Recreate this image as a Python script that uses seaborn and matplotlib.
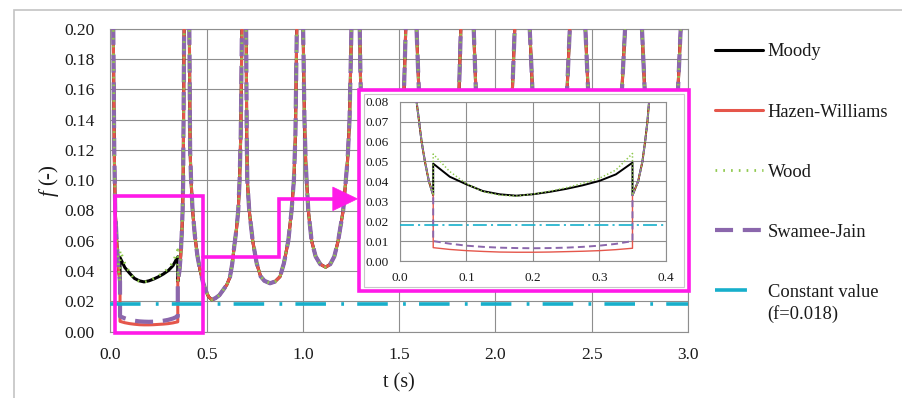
import matplotlib
matplotlib.use("Agg")
import matplotlib.pyplot as plt
import seaborn as sns
from matplotlib.patches import Rectangle, Polygon
from matplotlib.lines import Line2D

# ---------------- data ----------------
# shared descending branch at start (all four correlations coincide)
T_PRE = [0.0, 0.010, 0.015, 0.020, 0.025, 0.0325, 0.0375, 0.0435, 0.050]
F_PRE = [0.45, 0.26, 0.20, 0.12, 0.080, 0.060, 0.050, 0.040, 0.033]

# valve-closure interval where the correlations differ
T_MID = [0.05, 0.075, 0.10, 0.125, 0.15, 0.175, 0.20, 0.225, 0.25, 0.275, 0.30, 0.325, 0.35]
F_MOODY = [0.0489, 0.0423, 0.0385, 0.0351, 0.0335, 0.0328, 0.0335, 0.0347, 0.0362, 0.0380, 0.0402, 0.0435, 0.0494]
F_HAZEN = [0.0067, 0.0058, 0.0052, 0.0048, 0.0045, 0.0044, 0.0044, 0.0045, 0.0047, 0.0049, 0.0052, 0.0057, 0.0064]
F_WOOD = [0.0537, 0.0449, 0.0388, 0.0348, 0.0331, 0.0326, 0.0336, 0.0350, 0.0368, 0.0390, 0.0415, 0.0457, 0.0540]
F_SWAMEE = [0.0100, 0.0087, 0.0077, 0.0071, 0.0067, 0.0065, 0.0064, 0.0065, 0.0067, 0.0071, 0.0077, 0.0086, 0.0100]

# shared oscillating part after t = 0.35 s
T_POST = [0.350, 0.3585, 0.365, 0.369, 0.3725, 0.375, 0.378, 0.383, 0.396, 0.410, 0.414, 0.419,
          0.427, 0.439, 0.452, 0.465, 0.480, 0.495, 0.510, 0.526, 0.545, 0.566, 0.586, 0.605,
          0.621, 0.633, 0.643, 0.655, 0.664, 0.671, 0.677, 0.683,
          0.694, 0.705, 0.708, 0.711, 0.721, 0.739, 0.760, 0.780, 0.800, 0.829, 0.855, 0.881,
          0.901, 0.924, 0.941, 0.953, 0.961, 0.968,
          0.984, 1.001, 1.008, 1.014, 1.019, 1.028, 1.045, 1.066, 1.090, 1.118, 1.142, 1.163,
          1.183, 1.209, 1.223, 1.232, 1.242, 1.252,
          1.274, 1.295, 1.300, 1.330, 1.410, 1.490, 1.525, 1.534, 1.562, 1.590, 1.602,
          1.640, 1.700, 1.770, 1.811, 1.820, 1.854, 1.887, 1.898,
          1.940, 1.990, 2.050, 2.088, 2.100, 2.139, 2.178, 2.192,
          2.230, 2.280, 2.330, 2.372, 2.386, 2.426, 2.467, 2.481,
          2.520, 2.570, 2.620, 2.657, 2.673, 2.717, 2.761, 2.775,
          2.810, 2.860, 2.910, 2.948, 2.962, 3.000]
F_POST = [0.033, 0.040, 0.050, 0.060, 0.070, 0.080, 0.100, 0.200, 0.500, 0.200, 0.120, 0.100,
          0.080, 0.063, 0.050, 0.041, 0.033, 0.027, 0.023, 0.021, 0.022, 0.024, 0.0275, 0.031,
          0.036, 0.045, 0.056, 0.068, 0.080, 0.100, 0.130, 0.200,
          0.500, 0.200, 0.130, 0.100, 0.080, 0.060, 0.045, 0.0365, 0.0335, 0.0319, 0.033, 0.0363,
          0.045, 0.060, 0.080, 0.100, 0.130, 0.200,
          0.500, 0.200, 0.140, 0.1136, 0.100, 0.080, 0.060, 0.0496, 0.0445, 0.0425, 0.0445, 0.0496,
          0.060, 0.080, 0.100, 0.1136, 0.140, 0.200,
          0.500, 0.200, 0.160, 0.090, 0.055, 0.090, 0.160, 0.200, 0.500, 0.200, 0.160,
          0.100, 0.065, 0.100, 0.160, 0.200, 0.500, 0.200, 0.160,
          0.110, 0.075, 0.110, 0.160, 0.200, 0.500, 0.200, 0.160,
          0.120, 0.085, 0.120, 0.160, 0.200, 0.500, 0.200, 0.160,
          0.125, 0.095, 0.125, 0.160, 0.200, 0.500, 0.200, 0.160,
          0.130, 0.105, 0.130, 0.160, 0.200, 0.400]

T_CONST = [0.0, 3.0]
F_CONST = [0.018, 0.018]

LABELS = ["Moody", "Hazen-Williams", "Wood", "Swamee-Jain", "Constant value"]
LABEL_EXTRA = "(f=0.018)"
X_TICKS = [0.0, 0.5, 1.0, 1.5, 2.0, 2.5, 3.0]
Y_TICKS = [0.00, 0.02, 0.04, 0.06, 0.08, 0.10, 0.12, 0.14, 0.16, 0.18, 0.20]
XI_TICKS = [0.0, 0.1, 0.2, 0.3, 0.4]
YI_TICKS = [0.00, 0.01, 0.02, 0.03, 0.04, 0.05, 0.06, 0.07, 0.08]

# ---------------- style ----------------
sns.set_style("white")
plt.rcParams["font.family"] = ["Liberation Serif", "DejaVu Serif"]
plt.rcParams["mathtext.fontset"] = "custom"
plt.rcParams["mathtext.it"] = "Liberation Serif:italic"
plt.rcParams["mathtext.rm"] = "Liberation Serif"
plt.rcParams["lines.scale_dashes"] = False

BLACK = "#000000"
RED = "#E5564B"
GREEN = "#8FC94E"
PURPLE = "#8B67AC"
CYAN = "#17AFCB"
MAGENTA = "#FF1AE8"
GRID = "#8E8E8E"
TXT = "#1A1A1A"

W, H = 902.0, 398.0
fig = plt.figure(figsize=(W / 100, H / 100), dpi=100)

# outer chart border
fig.patches.append(Rectangle((14 / W, -0.2), 1.5, 1 - 10 / H + 0.2, transform=fig.transFigure,
                             fill=False, ec="#C4C4C4", lw=1.2, zorder=0))


def series(mid):
    return T_PRE + T_MID + T_POST, F_PRE + mid + F_POST


def draw(ax, main):
    specs = [
        (F_MOODY, BLACK, 2.2 if main else 1.4, None, 2),
        (F_HAZEN, RED, 2.2 if main else 1.0, None, 3),
        (F_SWAMEE, PURPLE, 3.0 if main else 1.4, (13, 7) if main else (5, 3), 4),
        (F_WOOD, GREEN, 2.0 if main else 1.1, (1.2, 4.4) if main else (1, 1.6), 5),
    ]
    lines = {}
    for mid, col, lw, dash, z in specs:
        t, f = series(mid)
        sns.lineplot(x=t, y=f, ax=ax, color=col, lw=lw, sort=False, estimator=None, zorder=z)
        ln = ax.lines[-1]
        if dash is not None:
            ln.set_dashes(dash)
        lines[col] = ln
    sns.lineplot(x=T_CONST, y=F_CONST, ax=ax, color=CYAN, lw=2.6 if main else 1.2,
                 sort=False, estimator=None, zorder=6)
    ln = ax.lines[-1]
    ln.set_dashes((22, 11, 2, 9.5) if main else (10, 3, 1.5, 3))
    lines[CYAN] = ln
    return lines


def style_axes(ax, xt, yt, xfmt, yfmt, size, pad):
    ax.set_xticks(xt)
    ax.set_yticks(yt)
    ax.set_xticklabels([xfmt.format(v) for v in xt])
    ax.set_yticklabels([yfmt.format(v) for v in yt])
    ax.grid(True, color=GRID, lw=0.8)
    for s in ax.spines.values():
        s.set_visible(True)
        s.set_color(GRID)
        s.set_linewidth(0.8)
    ax.tick_params(axis="both", direction="out", length=3.6, width=0.8,
                   labelsize=size, pad=pad, labelcolor=TXT, color=GRID)
    ax.set_xlabel("")
    ax.set_ylabel("")


# ---------------- main axes ----------------
ax = fig.add_axes([110.4 / W, 1 - 331.5 / H, 577.6 / W, 302.5 / H], zorder=1)
ax.set_facecolor("white")
main_lines = draw(ax, True)
ax.set_xlim(0, 3.0)
ax.set_ylim(0, 0.20)
style_axes(ax, X_TICKS, Y_TICKS, "{:.1f}", "{:.2f}", 12.5, 7.5)
ax.set_xlabel("t (s)", fontsize=14.5, color=TXT)
ax.set_ylabel("$f$ (-)", fontsize=15, color=TXT)
ax.xaxis.set_label_coords((399 - 110.4) / 577.6, -(383 - 331.5) / 302.5)
ax.yaxis.set_label_coords(-(110.4 - 49) / 577.6, 0.5)
ax.xaxis.label.set_va("center")
ax.yaxis.label.set_va("center")

# magenta zoom box and connector arrow (annotation)
ax.add_patch(Rectangle((0.024, -0.0012), 0.458, 0.0905, fill=False, ec=MAGENTA, lw=2.6,
                       clip_on=False, zorder=8))
ax.add_line(Line2D([0.482, 0.876, 0.876, 1.16], [0.0495, 0.0495, 0.0877, 0.0877],
                   color=MAGENTA, lw=2.6, clip_on=False, zorder=8, solid_joinstyle="miter"))
ax.add_patch(Polygon([[1.155, 0.0877 + 0.0078], [1.155, 0.0877 - 0.0078], [1.283, 0.0877]],
                     closed=True, fc=MAGENTA, ec=MAGENTA, lw=0.5, clip_on=False, zorder=8))

# ---------------- inset ----------------
fig.patches.append(Rectangle((358.5 / W, 1 - 291 / H), 330 / W, (291 - 89.5) / H,
                             transform=fig.transFigure, fc="white", ec=MAGENTA, lw=2.6, zorder=2))
fig.patches.append(Rectangle((363.5 / W, 1 - 286.5 / H), 320.5 / W, (286.5 - 94) / H,
                             transform=fig.transFigure, fill=False, ec="#C8C8C8", lw=0.8, zorder=2))
axi = fig.add_axes([400 / W, 1 - 261 / H, 265.7 / W, 159.3 / H], zorder=3)
axi.set_facecolor("white")
draw(axi, False)
axi.set_xlim(0, 0.4)
axi.set_ylim(0, 0.08)
style_axes(axi, XI_TICKS, YI_TICKS, "{:.1f}", "{:.2f}", 9.5, 4.5)

# ---------------- legend ----------------
handles = [main_lines[BLACK], main_lines[RED], main_lines[GREEN], main_lines[PURPLE], main_lines[CYAN]]
leg = fig.legend(handles, LABELS, loc="upper left", bbox_to_anchor=(715 / W, 1 - 43.5 / H),
                 frameon=False, fontsize=13.3, handlelength=2.6, handletextpad=0.25,
                 labelspacing=2.33, borderpad=0, borderaxespad=0)
for tx in leg.get_texts():
    tx.set_color(TXT)
leg.legend_handles[-1].set_dashes((23, 40))

fig.canvas.draw()
last = leg.get_texts()[-1]
bb = last.get_window_extent()
fig.text(bb.x0 / W, (bb.y0 - 4) / H, LABEL_EXTRA, fontsize=13.3, color=TXT,
         ha="left", va="top")

fig.savefig("out.png", dpi=100)
